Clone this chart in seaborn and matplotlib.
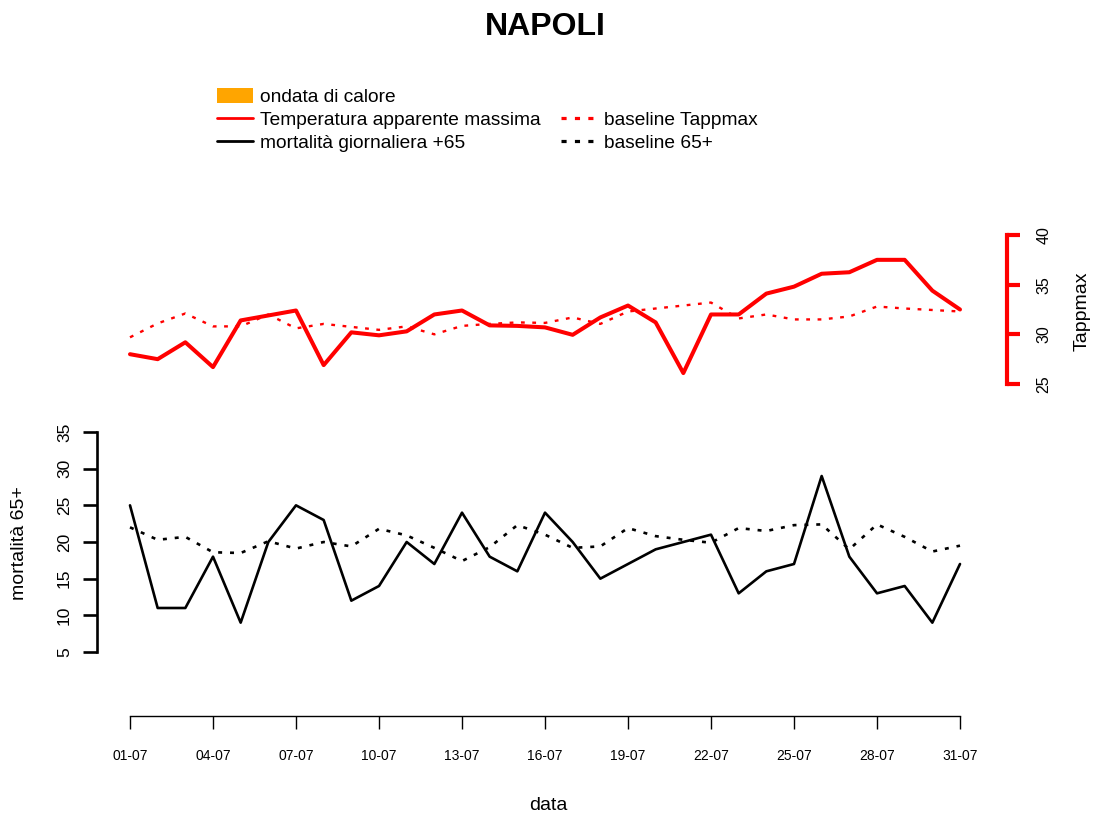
import matplotlib
matplotlib.use("Agg")
import matplotlib.pyplot as plt
import seaborn as sns
import numpy as np
import pandas as pd
from matplotlib.patches import Patch
from matplotlib.lines import Line2D

# --- data ---
days = list(range(1, 32))
tick_days = [1, 4, 7, 10, 13, 16, 19, 22, 25, 28, 31]
tick_labels = ["01-07", "04-07", "07-07", "10-07", "13-07", "16-07",
               "19-07", "22-07", "25-07", "28-07", "31-07"]

mortality = [25, 11, 11, 18, 9, 20, 25, 23, 12, 14, 20, 17, 24, 18, 16, 24,
             20, 15, 17, 19, 20, 21, 13, 16, 17, 29, 18, 13, 14, 9, 17]
baseline_65 = [22.0, 20.3, 20.7, 18.6, 18.5, 20.1, 19.1, 20.0, 19.4, 21.8,
               20.9, 19.2, 17.4, 19.3, 22.3, 21.0, 19.2, 19.4, 21.9, 20.8,
               20.3, 19.9, 21.9, 21.5, 22.3, 22.4, 19.0, 22.4, 20.7, 18.7, 19.5]
tappmax = [28.0, 27.5, 29.2, 26.7, 31.4, 31.9, 32.4, 26.9, 30.2, 29.9, 30.3,
           32.0, 32.4, 30.9, 30.85, 30.7, 29.95, 31.7, 32.9, 31.2, 26.1, 32.0,
           32.0, 34.1, 34.8, 36.1, 36.25, 37.5, 37.5, 34.4, 32.5]
baseline_tappmax = [29.7, 31.1, 32.1, 30.8, 30.8, 32.0, 30.6, 31.05, 30.75,
                    30.45, 30.8, 30.0, 30.85, 31.05, 31.2, 31.15, 31.7, 31.05,
                    32.3, 32.6, 32.9, 33.2, 31.6, 32.0, 31.5, 31.5, 31.8, 32.8,
                    32.6, 32.45, 32.3]

W, H = 1095, 818
sns.set_style("white")
plt.rcParams["font.family"] = ["Liberation Sans", "DejaVu Sans"]
plt.rcParams.update({"text.color": "black", "axes.labelcolor": "black",
                     "xtick.color": "black", "ytick.color": "black"})


def lim_from_px(v1, p1, v2, p2, p_lo, p_hi):
    # map pixel edges of the axes box to data limits
    scale = (v2 - v1) / (p2 - p1)
    return v1 + (p_lo - p1) * scale, v1 + (p_hi - p1) * scale


box_l, box_r, box_b, box_t = 97, 993, 716, 200
fig = plt.figure(figsize=(W / 100, H / 100), dpi=100)
ax = fig.add_axes([box_l / W, 1 - box_b / H, (box_r - box_l) / W, (box_b - box_t) / H])
ax2 = ax.twinx()

sns.lineplot(x=days, y=mortality, ax=ax, color="black", linewidth=1.9)
sns.lineplot(x=days, y=baseline_65, ax=ax, color="black", linewidth=1.9,
             linestyle=(0, (1.5, 3.0)))
sns.lineplot(x=days, y=tappmax, ax=ax2, color="red", linewidth=2.9)
sns.lineplot(x=days, y=baseline_tappmax, ax=ax2, color="red", linewidth=1.7,
             linestyle=(0, (1.6, 3.2)))

ax.set_xlim(*lim_from_px(1, 130, 31, 960, box_l, box_r))
ax.set_ylim(*lim_from_px(5, 652, 35, 432, box_b, box_t))
ax2.set_ylim(*lim_from_px(25, 384, 40, 235, box_b, box_t))

# left axis (mortality)
for s in ["top", "right"]:
    ax.spines[s].set_visible(False)
ax.spines["left"].set_bounds(5, 35)
ax.spines["left"].set_linewidth(1.9)
ax.spines["left"].set_color("black")
ax.set_yticks([5, 10, 15, 20, 25, 30, 35])
ax.tick_params(axis="y", direction="out", length=10, width=1.9, pad=8,
               labelsize=12.5, left=True)
for t in ax.get_yticklabels():
    t.set_rotation(90)
    t.set_va("center")

# bottom axis (dates)
ax.spines["bottom"].set_bounds(1, 31)
ax.spines["bottom"].set_linewidth(1.0)
ax.spines["bottom"].set_color("black")
ax.set_xticks(tick_days)
ax.set_xticklabels(tick_labels)
ax.tick_params(axis="x", direction="out", length=9, width=1.0, pad=14.5,
               labelsize=10, bottom=True)
ax.set_xlabel("")
ax.set_ylabel("")

# right axis (Tappmax)
for s in ["top", "left", "bottom"]:
    ax2.spines[s].set_visible(False)
ax2.spines["right"].set_bounds(25, 40)
ax2.spines["right"].set_color("red")
ax2.spines["right"].set_linewidth(3)
ax2.spines["right"].set_position(("outward", 10))
ax2.set_yticks([25, 30, 35, 40])
ax2.tick_params(axis="y", direction="out", length=9.4, width=3, color="red",
                pad=12, labelsize=11.5, right=True)
for t in ax2.get_yticklabels():
    t.set_rotation(90)
    t.set_va("center")
ax2.set_ylabel("")

# texts
fig.text(545 / W, 1 - 27 / H, "NAPOLI", ha="center", va="center",
         fontsize=23, fontweight="bold")
fig.text(548 / W, 1 - 805 / H, "data", ha="center", va="center", fontsize=14)
fig.text(20 / W, 1 - 543 / H, "mortalità 65+", ha="center", va="center",
         rotation=90, fontsize=14)
fig.text(1082 / W, 1 - 311 / H, "Tappmax", ha="center", va="center",
         rotation=90, fontsize=14)

# legend
dots = (0, (1.6, 2.6))
handles = [
    Patch(facecolor="orange", edgecolor="none"),
    Line2D([], [], color="red", linewidth=2),
    Line2D([], [], color="black", linewidth=2),
    Line2D([], [], color="none"),
    Line2D([], [], color="red", linewidth=2.3, linestyle=dots),
    Line2D([], [], color="black", linewidth=2.3, linestyle=dots),
]
labels = ["ondata di calore", "Temperatura apparente massima",
          "mortalità giornaliera +65", "", "baseline Tappmax", "baseline 65+"]
fig.legend(handles, labels, ncol=2, loc="upper left",
           bbox_to_anchor=(217 / W, 1 - 88 / H), frameon=False, fontsize=13.8,
           handlelength=1.87, handleheight=0.8, handletextpad=0.36,
           columnspacing=1.1, labelspacing=0.25, borderpad=0, borderaxespad=0)

fig.savefig("out.png", dpi=100)
